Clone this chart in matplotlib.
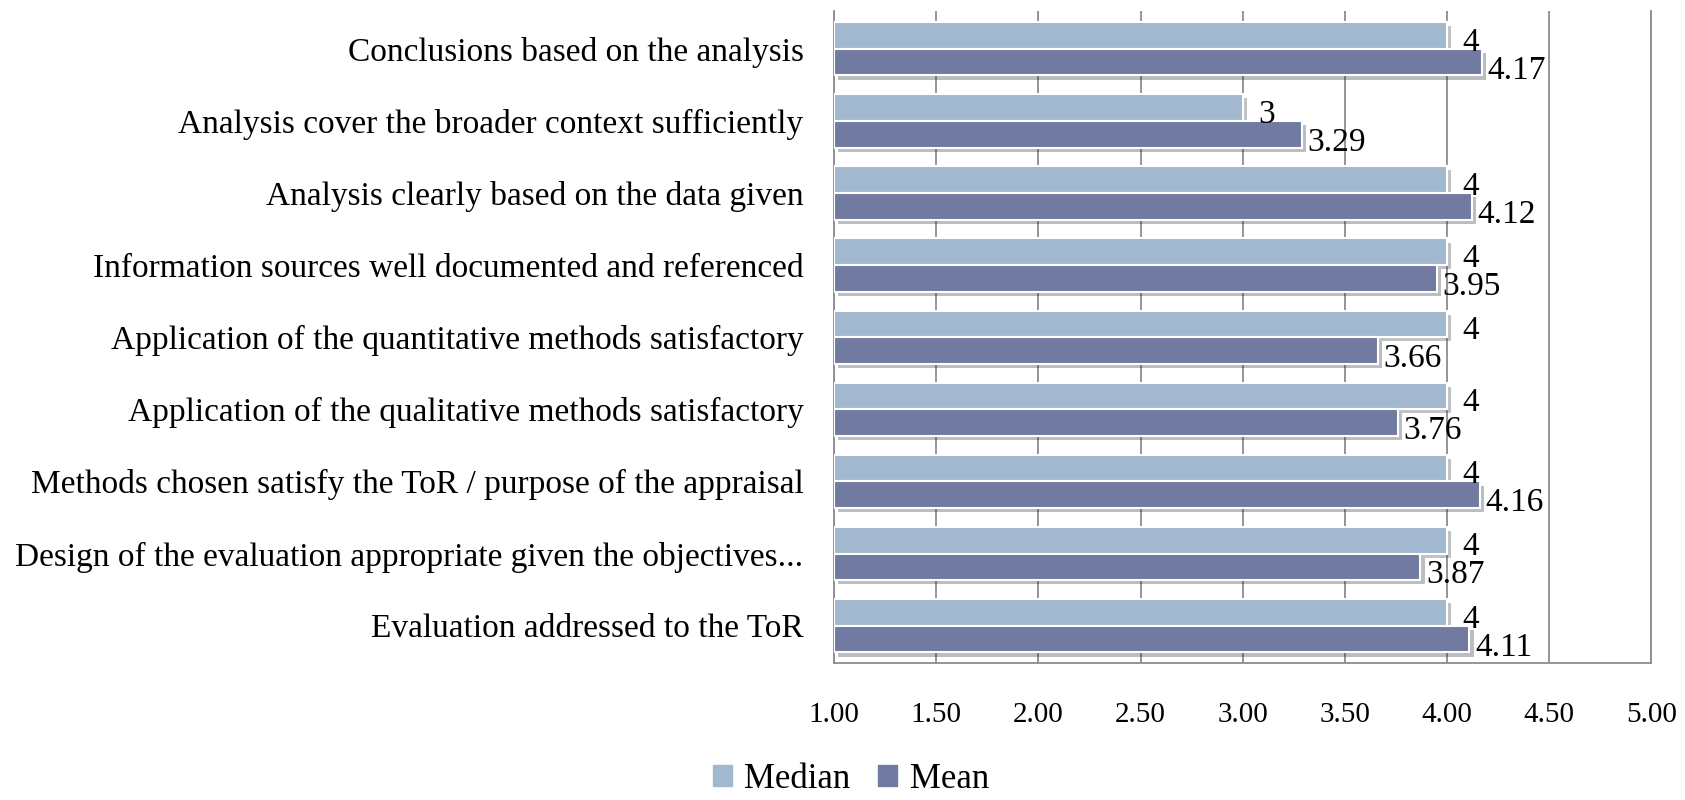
import matplotlib.pyplot as plt
import matplotlib.patheffects as pe
import numpy as np

plt.rcParams['font.family'] = ['Liberation Serif', 'DejaVu Serif']

categories = [
    'Conclusions based on the analysis',
    'Analysis cover the broader context sufficiently',
    'Analysis clearly based on the data given',
    'Information sources well documented and referenced',
    'Application of the quantitative methods satisfactory',
    'Application of the qualitative methods satisfactory',
    'Methods chosen satisfy the ToR / purpose of the appraisal',
    'Design of the evaluation appropriate given the objectives...',
    'Evaluation addressed to the ToR',
]
median = [4, 3, 4, 4, 4, 4, 4, 4, 4]
mean = [4.17, 3.29, 4.12, 3.95, 3.66, 3.76, 4.16, 3.87, 4.11]
xticks = [1.0, 1.5, 2.0, 2.5, 3.0, 3.5, 4.0, 4.5, 5.0]

c_median = '#A2B8CF'
c_mean = '#717AA1'
grid_c = '#8C8C8C'

fig = plt.figure(figsize=(16.85, 8.0), dpi=100)
ax = fig.add_axes([0.495, 0.171, 0.485, 0.815])

y = np.arange(len(categories))
h = 0.37
shadow = [pe.SimplePatchShadow(offset=(3, -3), alpha=0.3), pe.Normal()]

# bars start at 1 (axis minimum)
b1 = ax.barh(y - h / 2, np.array(median) - 1, left=1, height=h, color=c_median,
             edgecolor='white', linewidth=1.5, label='Median', zorder=3)
b2 = ax.barh(y + h / 2, np.array(mean) - 1, left=1, height=h, color=c_mean,
             edgecolor='white', linewidth=1.5, label='Mean', zorder=3)
for b in list(b1) + list(b2):
    b.set_path_effects(shadow)

for i in range(len(categories)):
    ax.annotate(f'{median[i]:g}', (median[i], y[i] - h / 2), xytext=(11, -5),
                textcoords='offset points', ha='left', va='center', fontsize=24, zorder=5)
    ax.annotate(f'{mean[i]:.2f}', (mean[i], y[i] + h / 2), xytext=(4, -6),
                textcoords='offset points', ha='left', va='center', fontsize=24, zorder=5)

ax.set_xlim(1, 5)
ax.set_ylim(len(categories) - 0.48, -0.52)
ax.set_xticks(xticks)
ax.set_xticklabels([f'{t:.2f}' for t in xticks], fontsize=21)
ax.set_yticks(y)
ax.set_yticklabels(categories, fontsize=24)
ax.tick_params(axis='x', length=0, pad=28)
ax.tick_params(axis='y', length=0, pad=22)

ax.grid(axis='x', color=grid_c, linewidth=1.3, zorder=0)
ax.set_axisbelow(True)
ax.spines['top'].set_visible(False)
for s in ['left', 'bottom', 'right']:
    ax.spines[s].set_color(grid_c)
    ax.spines[s].set_linewidth(1.3)

handles = [plt.Rectangle((0, 0), 1, 1, color=c_median),
           plt.Rectangle((0, 0), 1, 1, color=c_mean)]
fig.legend(handles, ['Median', 'Mean'], loc='lower center', bbox_to_anchor=(0.505, -0.034),
           ncol=2, frameon=False, fontsize=25, handlelength=0.55, handleheight=0.55,
           handletextpad=0.35, columnspacing=0.8)

fig.savefig('out.png', dpi=100)
